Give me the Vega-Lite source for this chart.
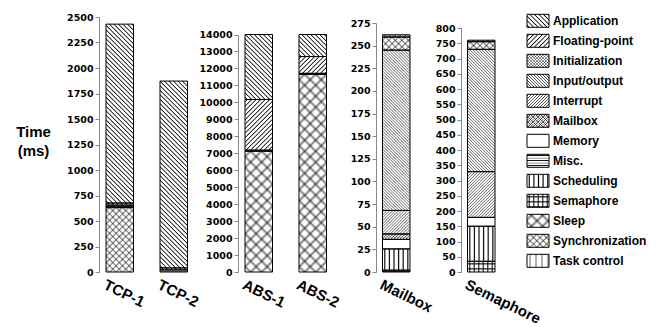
{
"$schema": "https://vega.github.io/schema/vega-lite/v6.json",
"background": "white",
"padding": {"left": 15, "top": 12, "right": 0, "bottom": 0},
"params": [
{"name": "pt1", "value": {"Application":"bs","Floating-point":"fs","Initialization":"bs","Input/output":"bs","Interrupt":"fs","Mailbox":"bs","Memory":"none","Misc.":"hz","Scheduling":"vt","Semaphore":"vt","Sleep":"bs","Synchronization":"bs","Task control":"vt"}},
{"name": "pt2", "value": {"Initialization":"fs","Mailbox":"fs","Sleep":"fs","Synchronization":"fs","Semaphore":"hz"}},
{"name": "psp1", "value": {"Application":4.5,"Floating-point":4.5,"Initialization":3,"Input/output":3,"Interrupt":3,"Mailbox":2.5,"Memory":28,"Misc.":2.5,"Scheduling":4.6,"Semaphore":4.5,"Sleep":11,"Synchronization":6.5,"Task control":6}},
{"name": "psp2", "value": {"Initialization":3,"Mailbox":2.5,"Sleep":11,"Synchronization":6.5,"Semaphore":5}},
{"name": "pop", "value": {"Application":1,"Floating-point":1,"Initialization":0.6,"Input/output":0.9,"Interrupt":0.9,"Mailbox":0.7,"Memory":1,"Misc.":1,"Scheduling":1,"Semaphore":0.9,"Sleep":0.5,"Synchronization":0.5,"Task control":0.45}},
{"name": "pHS", "value": [
{"offset":0.0035,"color":"rgba(0,0,0,0)"},{"offset":0.0069,"color":"#000"},{"offset":0.0104,"color":"rgba(0,0,0,0)"},
{"offset":0.0174,"color":"rgba(0,0,0,0)"},{"offset":0.0208,"color":"#000"},{"offset":0.0243,"color":"rgba(0,0,0,0)"},
{"offset":0.0313,"color":"rgba(0,0,0,0)"},{"offset":0.0347,"color":"#000"},{"offset":0.0382,"color":"rgba(0,0,0,0)"},
{"offset":0.0451,"color":"rgba(0,0,0,0)"},{"offset":0.0486,"color":"#000"},{"offset":0.0521,"color":"rgba(0,0,0,0)"},
{"offset":0.059,"color":"rgba(0,0,0,0)"},{"offset":0.0625,"color":"#000"},{"offset":0.066,"color":"rgba(0,0,0,0)"},
{"offset":0.0729,"color":"rgba(0,0,0,0)"},{"offset":0.0764,"color":"#000"},{"offset":0.0799,"color":"rgba(0,0,0,0)"},
{"offset":0.0868,"color":"rgba(0,0,0,0)"},{"offset":0.0903,"color":"#000"},{"offset":0.0938,"color":"rgba(0,0,0,0)"},
{"offset":0.1007,"color":"rgba(0,0,0,0)"},{"offset":0.1042,"color":"#000"},{"offset":0.1076,"color":"rgba(0,0,0,0)"},
{"offset":0.1146,"color":"rgba(0,0,0,0)"},{"offset":0.1181,"color":"#000"},{"offset":0.1215,"color":"rgba(0,0,0,0)"},
{"offset":0.1285,"color":"rgba(0,0,0,0)"},{"offset":0.1319,"color":"#000"},{"offset":0.1354,"color":"rgba(0,0,0,0)"},
{"offset":0.1424,"color":"rgba(0,0,0,0)"},{"offset":0.1458,"color":"#000"},{"offset":0.1493,"color":"rgba(0,0,0,0)"},
{"offset":0.1563,"color":"rgba(0,0,0,0)"},{"offset":0.1597,"color":"#000"},{"offset":0.1632,"color":"rgba(0,0,0,0)"},
{"offset":0.1701,"color":"rgba(0,0,0,0)"},{"offset":0.1736,"color":"#000"},{"offset":0.1771,"color":"rgba(0,0,0,0)"},
{"offset":0.184,"color":"rgba(0,0,0,0)"},{"offset":0.1875,"color":"#000"},{"offset":0.191,"color":"rgba(0,0,0,0)"},
{"offset":0.1979,"color":"rgba(0,0,0,0)"},{"offset":0.2014,"color":"#000"},{"offset":0.2049,"color":"rgba(0,0,0,0)"},
{"offset":0.2118,"color":"rgba(0,0,0,0)"},{"offset":0.2153,"color":"#000"},{"offset":0.2188,"color":"rgba(0,0,0,0)"},
{"offset":0.2257,"color":"rgba(0,0,0,0)"},{"offset":0.2292,"color":"#000"},{"offset":0.2326,"color":"rgba(0,0,0,0)"},
{"offset":0.2396,"color":"rgba(0,0,0,0)"},{"offset":0.2431,"color":"#000"},{"offset":0.2465,"color":"rgba(0,0,0,0)"},
{"offset":0.2535,"color":"rgba(0,0,0,0)"},{"offset":0.2569,"color":"#000"},{"offset":0.2604,"color":"rgba(0,0,0,0)"},
{"offset":0.2674,"color":"rgba(0,0,0,0)"},{"offset":0.2708,"color":"#000"},{"offset":0.2743,"color":"rgba(0,0,0,0)"},
{"offset":0.2813,"color":"rgba(0,0,0,0)"},{"offset":0.2847,"color":"#000"},{"offset":0.2882,"color":"rgba(0,0,0,0)"},
{"offset":0.2951,"color":"rgba(0,0,0,0)"},{"offset":0.2986,"color":"#000"},{"offset":0.3021,"color":"rgba(0,0,0,0)"},
{"offset":0.309,"color":"rgba(0,0,0,0)"},{"offset":0.3125,"color":"#000"},{"offset":0.316,"color":"rgba(0,0,0,0)"},
{"offset":0.3229,"color":"rgba(0,0,0,0)"},{"offset":0.3264,"color":"#000"},{"offset":0.3299,"color":"rgba(0,0,0,0)"},
{"offset":0.3368,"color":"rgba(0,0,0,0)"},{"offset":0.3403,"color":"#000"},{"offset":0.3438,"color":"rgba(0,0,0,0)"},
{"offset":0.3507,"color":"rgba(0,0,0,0)"},{"offset":0.3542,"color":"#000"},{"offset":0.3576,"color":"rgba(0,0,0,0)"},
{"offset":0.3646,"color":"rgba(0,0,0,0)"},{"offset":0.3681,"color":"#000"},{"offset":0.3715,"color":"rgba(0,0,0,0)"},
{"offset":0.3785,"color":"rgba(0,0,0,0)"},{"offset":0.3819,"color":"#000"},{"offset":0.3854,"color":"rgba(0,0,0,0)"},
{"offset":0.3924,"color":"rgba(0,0,0,0)"},{"offset":0.3958,"color":"#000"},{"offset":0.3993,"color":"rgba(0,0,0,0)"},
{"offset":0.4063,"color":"rgba(0,0,0,0)"},{"offset":0.4097,"color":"#000"},{"offset":0.4132,"color":"rgba(0,0,0,0)"},
{"offset":0.4201,"color":"rgba(0,0,0,0)"},{"offset":0.4236,"color":"#000"},{"offset":0.4271,"color":"rgba(0,0,0,0)"},
{"offset":0.434,"color":"rgba(0,0,0,0)"},{"offset":0.4375,"color":"#000"},{"offset":0.441,"color":"rgba(0,0,0,0)"},
{"offset":0.4479,"color":"rgba(0,0,0,0)"},{"offset":0.4514,"color":"#000"},{"offset":0.4549,"color":"rgba(0,0,0,0)"},
{"offset":0.4618,"color":"rgba(0,0,0,0)"},{"offset":0.4653,"color":"#000"},{"offset":0.4688,"color":"rgba(0,0,0,0)"},
{"offset":0.4757,"color":"rgba(0,0,0,0)"},{"offset":0.4792,"color":"#000"},{"offset":0.4826,"color":"rgba(0,0,0,0)"},
{"offset":0.4896,"color":"rgba(0,0,0,0)"},{"offset":0.4931,"color":"#000"},{"offset":0.4965,"color":"rgba(0,0,0,0)"},
{"offset":0.5035,"color":"rgba(0,0,0,0)"},{"offset":0.5069,"color":"#000"},{"offset":0.5104,"color":"rgba(0,0,0,0)"},
{"offset":0.5174,"color":"rgba(0,0,0,0)"},{"offset":0.5208,"color":"#000"},{"offset":0.5243,"color":"rgba(0,0,0,0)"},
{"offset":0.5313,"color":"rgba(0,0,0,0)"},{"offset":0.5347,"color":"#000"},{"offset":0.5382,"color":"rgba(0,0,0,0)"},
{"offset":0.5451,"color":"rgba(0,0,0,0)"},{"offset":0.5486,"color":"#000"},{"offset":0.5521,"color":"rgba(0,0,0,0)"},
{"offset":0.559,"color":"rgba(0,0,0,0)"},{"offset":0.5625,"color":"#000"},{"offset":0.566,"color":"rgba(0,0,0,0)"},
{"offset":0.5729,"color":"rgba(0,0,0,0)"},{"offset":0.5764,"color":"#000"},{"offset":0.5799,"color":"rgba(0,0,0,0)"},
{"offset":0.5868,"color":"rgba(0,0,0,0)"},{"offset":0.5903,"color":"#000"},{"offset":0.5938,"color":"rgba(0,0,0,0)"},
{"offset":0.6007,"color":"rgba(0,0,0,0)"},{"offset":0.6042,"color":"#000"},{"offset":0.6076,"color":"rgba(0,0,0,0)"},
{"offset":0.6146,"color":"rgba(0,0,0,0)"},{"offset":0.6181,"color":"#000"},{"offset":0.6215,"color":"rgba(0,0,0,0)"},
{"offset":0.6285,"color":"rgba(0,0,0,0)"},{"offset":0.6319,"color":"#000"},{"offset":0.6354,"color":"rgba(0,0,0,0)"},
{"offset":0.6424,"color":"rgba(0,0,0,0)"},{"offset":0.6458,"color":"#000"},{"offset":0.6493,"color":"rgba(0,0,0,0)"},
{"offset":0.6563,"color":"rgba(0,0,0,0)"},{"offset":0.6597,"color":"#000"},{"offset":0.6632,"color":"rgba(0,0,0,0)"},
{"offset":0.6701,"color":"rgba(0,0,0,0)"},{"offset":0.6736,"color":"#000"},{"offset":0.6771,"color":"rgba(0,0,0,0)"},
{"offset":0.684,"color":"rgba(0,0,0,0)"},{"offset":0.6875,"color":"#000"},{"offset":0.691,"color":"rgba(0,0,0,0)"},
{"offset":0.6979,"color":"rgba(0,0,0,0)"},{"offset":0.7014,"color":"#000"},{"offset":0.7049,"color":"rgba(0,0,0,0)"},
{"offset":0.7118,"color":"rgba(0,0,0,0)"},{"offset":0.7153,"color":"#000"},{"offset":0.7188,"color":"rgba(0,0,0,0)"},
{"offset":0.7257,"color":"rgba(0,0,0,0)"},{"offset":0.7292,"color":"#000"},{"offset":0.7326,"color":"rgba(0,0,0,0)"},
{"offset":0.7396,"color":"rgba(0,0,0,0)"},{"offset":0.7431,"color":"#000"},{"offset":0.7465,"color":"rgba(0,0,0,0)"},
{"offset":0.7535,"color":"rgba(0,0,0,0)"},{"offset":0.7569,"color":"#000"},{"offset":0.7604,"color":"rgba(0,0,0,0)"},
{"offset":0.7674,"color":"rgba(0,0,0,0)"},{"offset":0.7708,"color":"#000"},{"offset":0.7743,"color":"rgba(0,0,0,0)"},
{"offset":0.7813,"color":"rgba(0,0,0,0)"},{"offset":0.7847,"color":"#000"},{"offset":0.7882,"color":"rgba(0,0,0,0)"},
{"offset":0.7951,"color":"rgba(0,0,0,0)"},{"offset":0.7986,"color":"#000"},{"offset":0.8021,"color":"rgba(0,0,0,0)"},
{"offset":0.809,"color":"rgba(0,0,0,0)"},{"offset":0.8125,"color":"#000"},{"offset":0.816,"color":"rgba(0,0,0,0)"},
{"offset":0.8229,"color":"rgba(0,0,0,0)"},{"offset":0.8264,"color":"#000"},{"offset":0.8299,"color":"rgba(0,0,0,0)"},
{"offset":0.8368,"color":"rgba(0,0,0,0)"},{"offset":0.8403,"color":"#000"},{"offset":0.8438,"color":"rgba(0,0,0,0)"},
{"offset":0.8507,"color":"rgba(0,0,0,0)"},{"offset":0.8542,"color":"#000"},{"offset":0.8576,"color":"rgba(0,0,0,0)"},
{"offset":0.8646,"color":"rgba(0,0,0,0)"},{"offset":0.8681,"color":"#000"},{"offset":0.8715,"color":"rgba(0,0,0,0)"},
{"offset":0.8785,"color":"rgba(0,0,0,0)"},{"offset":0.8819,"color":"#000"},{"offset":0.8854,"color":"rgba(0,0,0,0)"},
{"offset":0.8924,"color":"rgba(0,0,0,0)"},{"offset":0.8958,"color":"#000"},{"offset":0.8993,"color":"rgba(0,0,0,0)"},
{"offset":0.9063,"color":"rgba(0,0,0,0)"},{"offset":0.9097,"color":"#000"},{"offset":0.9132,"color":"rgba(0,0,0,0)"},
{"offset":0.9201,"color":"rgba(0,0,0,0)"},{"offset":0.9236,"color":"#000"},{"offset":0.9271,"color":"rgba(0,0,0,0)"},
{"offset":0.934,"color":"rgba(0,0,0,0)"},{"offset":0.9375,"color":"#000"},{"offset":0.941,"color":"rgba(0,0,0,0)"},
{"offset":0.9479,"color":"rgba(0,0,0,0)"},{"offset":0.9514,"color":"#000"},{"offset":0.9549,"color":"rgba(0,0,0,0)"},
{"offset":0.9618,"color":"rgba(0,0,0,0)"},{"offset":0.9653,"color":"#000"},{"offset":0.9688,"color":"rgba(0,0,0,0)"},
{"offset":0.9757,"color":"rgba(0,0,0,0)"},{"offset":0.9792,"color":"#000"},{"offset":0.9826,"color":"rgba(0,0,0,0)"},
{"offset":0.9896,"color":"rgba(0,0,0,0)"},{"offset":0.9931,"color":"#000"},{"offset":0.9965,"color":"rgba(0,0,0,0)"}
]}
],
"datasets": {
"tcp": [
{"bar":"TCP-1","cat":"Synchronization","lo":0,"hi":631},
{"bar":"TCP-1","cat":"Misc.","lo":631,"hi":655},
{"bar":"TCP-1","cat":"Semaphore","lo":655,"hi":676},
{"bar":"TCP-1","cat":"Application","lo":676,"hi":2430},
{"bar":"TCP-2","cat":"Misc.","lo":0,"hi":20},
{"bar":"TCP-2","cat":"Semaphore","lo":20,"hi":40},
{"bar":"TCP-2","cat":"Application","lo":40,"hi":1872}
],
"abs": [
{"bar":"ABS-1","cat":"Sleep","lo":0,"hi":7120},
{"bar":"ABS-1","cat":"Misc.","lo":7120,"hi":7180},
{"bar":"ABS-1","cat":"Floating-point","lo":7180,"hi":10170},
{"bar":"ABS-1","cat":"Application","lo":10170,"hi":14000},
{"bar":"ABS-2","cat":"Sleep","lo":0,"hi":11650},
{"bar":"ABS-2","cat":"Misc.","lo":11650,"hi":11710},
{"bar":"ABS-2","cat":"Floating-point","lo":11710,"hi":12700},
{"bar":"ABS-2","cat":"Application","lo":12700,"hi":14000}
],
"mbx": [
{"bar":"Mailbox","cat":"Misc.","lo":0,"hi":2},
{"bar":"Mailbox","cat":"Scheduling","lo":2,"hi":25.5},
{"bar":"Mailbox","cat":"Memory","lo":25.5,"hi":36},
{"bar":"Mailbox","cat":"Initialization","lo":36,"hi":42},
{"bar":"Mailbox","cat":"Interrupt","lo":42,"hi":68},
{"bar":"Mailbox","cat":"Input/output","lo":68,"hi":245},
{"bar":"Mailbox","cat":"Synchronization","lo":245,"hi":259.5},
{"bar":"Mailbox","cat":"Mailbox","lo":259.5,"hi":262}
],
"sem": [
{"bar":"Semaphore","cat":"Semaphore","lo":0,"hi":35},
{"bar":"Semaphore","cat":"Scheduling","lo":35,"hi":150},
{"bar":"Semaphore","cat":"Memory","lo":150,"hi":179},
{"bar":"Semaphore","cat":"Interrupt","lo":179,"hi":329},
{"bar":"Semaphore","cat":"Input/output","lo":329,"hi":730},
{"bar":"Semaphore","cat":"Synchronization","lo":730,"hi":755},
{"bar":"Semaphore","cat":"Mailbox","lo":755,"hi":760}
],
"leg": [
{"cat":"Application"},{"cat":"Floating-point"},{"cat":"Initialization"},{"cat":"Input/output"},{"cat":"Interrupt"},{"cat":"Mailbox"},{"cat":"Memory"},{"cat":"Misc."},{"cat":"Scheduling"},{"cat":"Semaphore"},{"cat":"Sleep"},{"cat":"Synchronization"},{"cat":"Task control"}
]
},
"config": {
"view": {"stroke": null},
"axisY": {"labelFont":"DejaVu Sans","labelFontSize":9.5,"labelFontWeight":"bold","labelColor":"#000","domainColor":"#888","tickColor":"#888","tickSize":4,"labelPadding":2,"grid":false,"labelOverlap":false}
},
"bounds": "flush",
"spacing": 20,
"hconcat": [
{
"width": 119, "height": 255,
"data": {"name": "tcp"},
"encoding": {
"x": {"field":"bar","type":"nominal","sort":null,"title":null,"scale":{"paddingInner":0.4907,"paddingOuter":0.3472,"align":0.1867},
"axis":{"labelFont":"Liberation Sans","labelFontSize":15,"labelFontWeight":"bold","labelColor":"#000","labelAngle":26,"labelAlign":"left","labelBaseline":"top","labelOffset":-12,"labelPadding":5,"domain":false,"ticks":false,"grid":false}},
"y": {"field":"lo","type":"quantitative","scale":{"domain":[0,2500],"range":[255,0],"nice":false},
"axis":{"values":[0,250,500,750,1000,1250,1500,1750,2000,2250,2500],"format":"d","title":["Time","(ms)"],"titleAngle":0,"titleFont":"Liberation Sans","titleFontSize":15,"titleFontWeight":"bold","titleColor":"#000","titleAlign":"center","titleBaseline":"middle","titleX":-66,"titleY":114,"titleLineHeight":19}},
"y2": {"field":"hi"}
},
"layer": [
{"mark":{"type":"bar","fill":"#fff","strokeWidth":0}},
{"mark":{"type":"bar","strokeWidth":0,"fillOpacity":{"expr":"pop[datum.cat]"},"fill":{"expr":"pt1[datum.cat]=='bs'?{gradient:'linear',x1:0,y1:1,x2:27.5*72*psp1[datum.cat]/(756.25+pow((datum.hi-datum.lo)*0.102,2)),y2:1-(datum.hi-datum.lo)*0.102*72*psp1[datum.cat]/(756.25+pow((datum.hi-datum.lo)*0.102,2)),stops:pHS}:pt1[datum.cat]=='fs'?{gradient:'linear',x1:0,y1:0,x2:27.5*72*psp1[datum.cat]/(756.25+pow((datum.hi-datum.lo)*0.102,2)),y2:(datum.hi-datum.lo)*0.102*72*psp1[datum.cat]/(756.25+pow((datum.hi-datum.lo)*0.102,2)),stops:pHS}:pt1[datum.cat]=='hz'?{gradient:'linear',x1:0,y1:0,x2:0,y2:72*psp1[datum.cat]/((datum.hi-datum.lo)*0.102),stops:pHS}:pt1[datum.cat]=='vt'?{gradient:'linear',x1:0,y1:0,x2:72*psp1[datum.cat]/27.5,y2:0,stops:pHS}:'transparent'"}}},
{"mark":{"type":"bar","stroke":"#000","strokeWidth":1,"fillOpacity":{"expr":"pop[datum.cat]"},"fill":{"expr":"pt2[datum.cat]=='fs'?{gradient:'linear',x1:0,y1:0,x2:27.5*72*psp2[datum.cat]/(756.25+pow((datum.hi-datum.lo)*0.102,2)),y2:(datum.hi-datum.lo)*0.102*72*psp2[datum.cat]/(756.25+pow((datum.hi-datum.lo)*0.102,2)),stops:pHS}:pt2[datum.cat]=='hz'?{gradient:'linear',x1:0,y1:0,x2:0,y2:72*psp2[datum.cat]/((datum.hi-datum.lo)*0.102),stops:pHS}:'transparent'"}}}
]
},
{
"width": 118, "height": 255,
"data": {"name": "abs"},
"encoding": {
"x": {"field":"bar","type":"nominal","sort":null,"title":null,"scale":{"paddingInner":0.4907,"paddingOuter":0.338,"align":0.1918},
"axis":{"labelFont":"Liberation Sans","labelFontSize":15,"labelFontWeight":"bold","labelColor":"#000","labelAngle":26,"labelAlign":"left","labelBaseline":"top","labelOffset":-12,"labelPadding":5,"domain":false,"ticks":false,"grid":false}},
"y": {"field":"lo","type":"quantitative","scale":{"domain":[0,14000],"range":[255,17.5],"nice":false},
"axis":{"values":[0,1000,2000,3000,4000,5000,6000,7000,8000,9000,10000,11000,12000,13000,14000],"format":"d","title":null}},
"y2": {"field":"hi"}
},
"layer": [
{"mark":{"type":"bar","fill":"#fff","strokeWidth":0}},
{"mark":{"type":"bar","strokeWidth":0,"fillOpacity":{"expr":"pop[datum.cat]"},"fill":{"expr":"pt1[datum.cat]=='bs'?{gradient:'linear',x1:0,y1:1,x2:27.5*72*psp1[datum.cat]/(756.25+pow((datum.hi-datum.lo)*0.0169643,2)),y2:1-(datum.hi-datum.lo)*0.0169643*72*psp1[datum.cat]/(756.25+pow((datum.hi-datum.lo)*0.0169643,2)),stops:pHS}:pt1[datum.cat]=='fs'?{gradient:'linear',x1:0,y1:0,x2:27.5*72*psp1[datum.cat]/(756.25+pow((datum.hi-datum.lo)*0.0169643,2)),y2:(datum.hi-datum.lo)*0.0169643*72*psp1[datum.cat]/(756.25+pow((datum.hi-datum.lo)*0.0169643,2)),stops:pHS}:pt1[datum.cat]=='hz'?{gradient:'linear',x1:0,y1:0,x2:0,y2:72*psp1[datum.cat]/((datum.hi-datum.lo)*0.0169643),stops:pHS}:pt1[datum.cat]=='vt'?{gradient:'linear',x1:0,y1:0,x2:72*psp1[datum.cat]/27.5,y2:0,stops:pHS}:'transparent'"}}},
{"mark":{"type":"bar","stroke":"#000","strokeWidth":1,"fillOpacity":{"expr":"pop[datum.cat]"},"fill":{"expr":"pt2[datum.cat]=='fs'?{gradient:'linear',x1:0,y1:0,x2:27.5*72*psp2[datum.cat]/(756.25+pow((datum.hi-datum.lo)*0.0169643,2)),y2:(datum.hi-datum.lo)*0.0169643*72*psp2[datum.cat]/(756.25+pow((datum.hi-datum.lo)*0.0169643,2)),stops:pHS}:pt2[datum.cat]=='hz'?{gradient:'linear',x1:0,y1:0,x2:0,y2:72*psp2[datum.cat]/((datum.hi-datum.lo)*0.0169643),stops:pHS}:'transparent'"}}}
]
},
{
"width": 65, "height": 255,
"data": {"name": "mbx"},
"encoding": {
"x": {"field":"bar","type":"nominal","sort":null,"title":null,"scale":{"paddingInner":0,"paddingOuter":0.6818,"align":0.1733},
"axis":{"labelFont":"Liberation Sans","labelFontSize":15,"labelFontWeight":"bold","labelColor":"#000","labelAngle":26,"labelAlign":"left","labelBaseline":"top","labelOffset":-12,"labelPadding":5,"domain":false,"ticks":false,"grid":false}},
"y": {"field":"lo","type":"quantitative","scale":{"domain":[0,275],"range":[255,6],"nice":false},
"axis":{"values":[0,25,50,75,100,125,150,175,200,225,250,275],"format":"d","title":null}},
"y2": {"field":"hi"}
},
"layer": [
{"mark":{"type":"bar","fill":"#fff","strokeWidth":0}},
{"mark":{"type":"bar","strokeWidth":0,"fillOpacity":{"expr":"pop[datum.cat]"},"fill":{"expr":"pt1[datum.cat]=='bs'?{gradient:'linear',x1:0,y1:1,x2:27.5*72*psp1[datum.cat]/(756.25+pow((datum.hi-datum.lo)*0.905455,2)),y2:1-(datum.hi-datum.lo)*0.905455*72*psp1[datum.cat]/(756.25+pow((datum.hi-datum.lo)*0.905455,2)),stops:pHS}:pt1[datum.cat]=='fs'?{gradient:'linear',x1:0,y1:0,x2:27.5*72*psp1[datum.cat]/(756.25+pow((datum.hi-datum.lo)*0.905455,2)),y2:(datum.hi-datum.lo)*0.905455*72*psp1[datum.cat]/(756.25+pow((datum.hi-datum.lo)*0.905455,2)),stops:pHS}:pt1[datum.cat]=='hz'?{gradient:'linear',x1:0,y1:0,x2:0,y2:72*psp1[datum.cat]/((datum.hi-datum.lo)*0.905455),stops:pHS}:pt1[datum.cat]=='vt'?{gradient:'linear',x1:0,y1:0,x2:72*psp1[datum.cat]/27.5,y2:0,stops:pHS}:'transparent'"}}},
{"mark":{"type":"bar","stroke":"#000","strokeWidth":1,"fillOpacity":{"expr":"pop[datum.cat]"},"fill":{"expr":"pt2[datum.cat]=='fs'?{gradient:'linear',x1:0,y1:0,x2:27.5*72*psp2[datum.cat]/(756.25+pow((datum.hi-datum.lo)*0.905455,2)),y2:(datum.hi-datum.lo)*0.905455*72*psp2[datum.cat]/(756.25+pow((datum.hi-datum.lo)*0.905455,2)),stops:pHS}:pt2[datum.cat]=='hz'?{gradient:'linear',x1:0,y1:0,x2:0,y2:72*psp2[datum.cat]/((datum.hi-datum.lo)*0.905455),stops:pHS}:'transparent'"}}}
]
},
{
"width": 46, "height": 255,
"data": {"name": "sem"},
"encoding": {
"x": {"field":"bar","type":"nominal","sort":null,"title":null,"scale":{"paddingInner":0,"paddingOuter":0.3364,"align":0.3514},
"axis":{"labelFont":"Liberation Sans","labelFontSize":15,"labelFontWeight":"bold","labelColor":"#000","labelAngle":26,"labelAlign":"left","labelBaseline":"top","labelOffset":-12,"labelPadding":5,"domain":false,"ticks":false,"grid":false}},
"y": {"field":"lo","type":"quantitative","scale":{"domain":[0,800],"range":[255,11],"nice":false},
"axis":{"values":[0,50,100,150,200,250,300,350,400,450,500,550,600,650,700,750,800],"format":"d","title":null}},
"y2": {"field":"hi"}
},
"layer": [
{"mark":{"type":"bar","fill":"#fff","strokeWidth":0}},
{"mark":{"type":"bar","strokeWidth":0,"fillOpacity":{"expr":"pop[datum.cat]"},"fill":{"expr":"pt1[datum.cat]=='bs'?{gradient:'linear',x1:0,y1:1,x2:27.5*72*psp1[datum.cat]/(756.25+pow((datum.hi-datum.lo)*0.305,2)),y2:1-(datum.hi-datum.lo)*0.305*72*psp1[datum.cat]/(756.25+pow((datum.hi-datum.lo)*0.305,2)),stops:pHS}:pt1[datum.cat]=='fs'?{gradient:'linear',x1:0,y1:0,x2:27.5*72*psp1[datum.cat]/(756.25+pow((datum.hi-datum.lo)*0.305,2)),y2:(datum.hi-datum.lo)*0.305*72*psp1[datum.cat]/(756.25+pow((datum.hi-datum.lo)*0.305,2)),stops:pHS}:pt1[datum.cat]=='hz'?{gradient:'linear',x1:0,y1:0,x2:0,y2:72*psp1[datum.cat]/((datum.hi-datum.lo)*0.305),stops:pHS}:pt1[datum.cat]=='vt'?{gradient:'linear',x1:0,y1:0,x2:72*psp1[datum.cat]/27.5,y2:0,stops:pHS}:'transparent'"}}},
{"mark":{"type":"bar","stroke":"#000","strokeWidth":1,"fillOpacity":{"expr":"pop[datum.cat]"},"fill":{"expr":"pt2[datum.cat]=='fs'?{gradient:'linear',x1:0,y1:0,x2:27.5*72*psp2[datum.cat]/(756.25+pow((datum.hi-datum.lo)*0.305,2)),y2:(datum.hi-datum.lo)*0.305*72*psp2[datum.cat]/(756.25+pow((datum.hi-datum.lo)*0.305,2)),stops:pHS}:pt2[datum.cat]=='hz'?{gradient:'linear',x1:0,y1:0,x2:0,y2:72*psp2[datum.cat]/((datum.hi-datum.lo)*0.305),stops:pHS}:'transparent'"}}}
]
},
{
"width": 127, "height": 255,
"data": {"name": "leg"},
"encoding": {
"y": {"field":"cat","type":"nominal","sort":null,"scale":{"range":[-6.2,253.8],"paddingInner":0.35,"paddingOuter":0.175},"axis":null}
},
"layer": [
{"mark":{"type":"bar","fill":"#fff","strokeWidth":0},
"encoding":{"x":{"datum":0,"type":"quantitative","scale":{"domain":[0,127],"nice":false},"axis":null},"x2":{"datum":22}}},
{"mark":{"type":"bar","strokeWidth":0,"fillOpacity":{"expr":"pop[datum.cat]"},"fill":{"expr":"pt1[datum.cat]=='bs'?{gradient:'linear',x1:0,y1:1,x2:22*72*psp1[datum.cat]/653,y2:1-13*72*psp1[datum.cat]/653,stops:pHS}:pt1[datum.cat]=='fs'?{gradient:'linear',x1:0,y1:0,x2:22*72*psp1[datum.cat]/653,y2:13*72*psp1[datum.cat]/653,stops:pHS}:pt1[datum.cat]=='hz'?{gradient:'linear',x1:0,y1:0,x2:0,y2:72*psp1[datum.cat]/13,stops:pHS}:pt1[datum.cat]=='vt'?{gradient:'linear',x1:0,y1:0,x2:72*psp1[datum.cat]/22,y2:0,stops:pHS}:'transparent'"}},
"encoding":{"x":{"datum":0,"type":"quantitative"},"x2":{"datum":22}}},
{"mark":{"type":"bar","stroke":"#000","strokeWidth":1,"fillOpacity":{"expr":"pop[datum.cat]"},"fill":{"expr":"pt2[datum.cat]=='fs'?{gradient:'linear',x1:0,y1:0,x2:22*72*psp2[datum.cat]/653,y2:13*72*psp2[datum.cat]/653,stops:pHS}:pt2[datum.cat]=='hz'?{gradient:'linear',x1:0,y1:0,x2:0,y2:72*psp2[datum.cat]/13,stops:pHS}:'transparent'"}},
"encoding":{"x":{"datum":0,"type":"quantitative"},"x2":{"datum":22}}},
{"mark":{"type":"text","align":"left","baseline":"middle","font":"Liberation Sans","fontSize":12,"fontWeight":"bold","color":"#000"},
"encoding":{"x":{"datum":26,"type":"quantitative"},"text":{"field":"cat"}}}
]
}
]
}
